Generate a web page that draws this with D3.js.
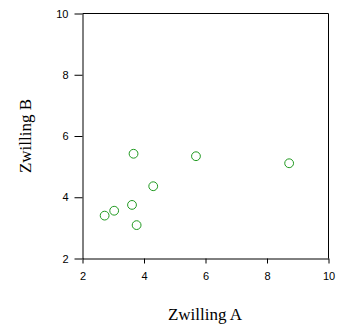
<!DOCTYPE html>
<html><head><meta charset="utf-8">
<script src="https://cdn.jsdelivr.net/npm/d3@7"></script>
<style>body{margin:0;background:#fff}</style>
</head><body>
<svg id="c" width="338" height="329"></svg>
<script>
const xValues = [3.66, 5.69, 8.72, 4.30, 3.61, 3.03, 2.72, 3.76];
const yValues = [5.42, 5.34, 5.11, 4.36, 3.75, 3.56, 3.40, 3.09];
const xTicks = [2, 4, 6, 8, 10];
const yTicks = [2, 4, 6, 8, 10];
const xTitle = "Zwilling A";
const yTitle = "Zwilling B";

const svg = d3.select("#c");
const L = 82.5, R = 328.5, T = 13.5, B = 258.5;
const x = d3.scaleLinear().domain([2, 10]).range([L, R]);
const y = d3.scaleLinear().domain([2, 10]).range([B, T]);

// frame top/right
svg.append("path").attr("d", `M${L},${T}H${R}V${B}`).attr("fill", "none").attr("stroke", "#000").attr("stroke-width", 1);

const xa = svg.append("g").attr("transform", `translate(0,${B})`)
  .call(d3.axisBottom(x).tickValues(xTicks).tickSize(5).tickSizeOuter(0).tickPadding(9));
const ya = svg.append("g").attr("transform", `translate(${L},0)`)
  .call(d3.axisLeft(y).tickValues(yTicks).tickSize(8).tickSizeOuter(0).tickPadding(6));
[xa, ya].forEach(a => {
  a.selectAll("text").attr("font-family", "Liberation Sans, Arial, sans-serif").attr("font-size", 11).attr("fill", "#000");
  a.select(".domain").attr("stroke", "#000");
  a.selectAll(".tick line").attr("stroke", "#000");
});

svg.append("text").attr("x", 205).attr("y", 320).attr("text-anchor", "middle")
  .attr("font-family", "Liberation Serif, Times New Roman, serif").attr("font-size", 17).text(xTitle);
svg.append("text").attr("transform", `translate(31,136) rotate(-90)`).attr("text-anchor", "middle")
  .attr("font-family", "Liberation Serif, Times New Roman, serif").attr("font-size", 17).text(yTitle);

svg.append("g").selectAll("circle").data(xValues.map((v, i) => [v, yValues[i]])).join("circle")
  .attr("cx", d => x(d[0])).attr("cy", d => y(d[1])).attr("r", 4.4)
  .attr("fill", "none").attr("stroke", "#1f991f").attr("stroke-width", 1);
</script>
</body></html>
